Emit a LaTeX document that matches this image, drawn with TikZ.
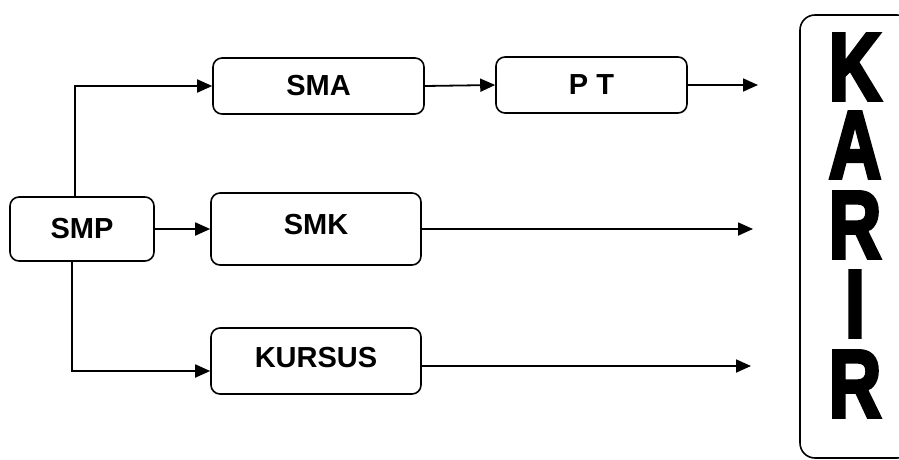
\documentclass[tikz,border=0pt]{standalone}
\usepackage{fontspec}
\setmainfont{Liberation Sans}
\newfontface\karirface[FakeBold=4]{Liberation Sans Bold}
\usetikzlibrary{arrows.meta}
\begin{document}
\begin{tikzpicture}[x=1pt, y=-1pt]
    % Define styles
    \tikzset{
        stage/.style={
            draw,
            rounded corners=9pt,
            line width=1.6pt,
            inner sep=0pt,
            font=\bfseries\fontsize{29}{29}\selectfont
        },
        link/.style={
            line width=1.8pt,
            -{Triangle[length=15pt, width=13pt]}
        },
        bigletter/.style={
            inner sep=0pt,
            font=\karirface\fontsize{96}{96}\selectfont
        }
    }
    \useasboundingbox (0,0) rectangle (899,460);

    % Schools
    \node[stage, minimum width=144pt, minimum height=64pt] (smp) at (82,229) {SMP};
    \node[stage, minimum width=211pt, minimum height=56pt] (sma) at (318.5,86) {SMA};
    \node[stage, minimum width=191pt, minimum height=56pt] (pt) at (591.5,85) {P T};
    \node[stage, minimum width=210pt, minimum height=72pt, text depth=10pt] (smk) at (316,229) {SMK};
    \node[stage, minimum width=210pt, minimum height=66pt, text depth=8pt] (kursus) at (316,361) {KURSUS};

    % Career box (runs past the right edge)
    \node[stage, rounded corners=15pt, minimum width=112pt, minimum height=443pt] (karir) at (856,236.5) {};
    \foreach \l/\y [count=\i] in {K/100, A/178, R/258, I/337, R/417}
        \node[bigletter, anchor=base] (letter\i) at (855,\y) {\scalebox{0.76}[1]{\l}};

    % Free ends of the arrows
    \coordinate (ptend) at (758,85);
    \coordinate (smkend) at (753,229);
    \coordinate (kursusend) at (751,366);

    % Connectors
    \draw[link] ([xshift=-7pt]smp.north) |- (sma.west);
    \draw[link] (smp.east) -- (smk.west);
    \draw[link] ([xshift=-10pt]smp.south) |- ([yshift=-10pt]kursus.west);
    \draw[link] (sma.east) -- (pt.west);
    \draw[link] (pt.east) -- (ptend);
    \draw[link] (smk.east) -- (smkend);
    \draw[link] ([yshift=-5pt]kursus.east) -- (kursusend);
\end{tikzpicture}
\end{document}
